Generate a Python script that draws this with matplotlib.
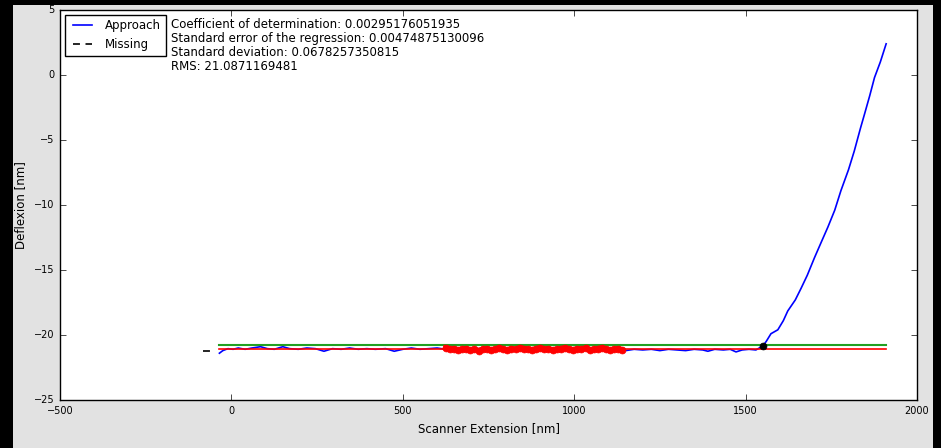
import matplotlib
matplotlib.use("Agg")
import matplotlib.pyplot as plt
from matplotlib.patches import Rectangle

plt.style.use("classic")
plt.rcParams['font.family'] = ['DejaVu Sans']

# approach curve: flat baseline then contact part
approach_x = [-35, -25, -10, 5, 20, 40, 60, 85, 105, 125, 150, 170, 195, 220, 245, 270, 295,
              320, 345, 370, 395, 420, 450, 475, 500, 525, 550, 575, 600, 625, 650, 675, 700,
              725, 750, 775, 800, 825, 850, 875, 900, 925, 950, 975, 1000, 1025, 1050, 1075,
              1100, 1125, 1150, 1175, 1200, 1225, 1250, 1275, 1300, 1325, 1350, 1375, 1390,
              1410, 1435, 1455, 1472, 1490, 1510, 1530, 1550,
              1560, 1574, 1594, 1610, 1623, 1645, 1662, 1680, 1701, 1720, 1740, 1760, 1778,
              1800, 1817, 1835, 1847, 1862, 1876, 1893, 1910]
approach_y = [-21.4, -21.2, -21.05, -21.1, -21.0, -21.1, -21.0, -20.9, -21.05, -21.1, -20.9,
              -21.05, -21.1, -21.0, -21.05, -21.25, -21.05, -21.1, -21.0, -21.1, -21.05, -21.1,
              -21.05, -21.25, -21.1, -21.0, -21.1, -21.05, -21.0, -21.1, -21.05, -21.0, -21.1,
              -21.05, -21.1, -21.0, -21.05, -21.1, -21.0, -21.05, -21.1, -21.0, -21.1, -21.05,
              -21.0, -21.1, -21.05, -21.1, -21.15, -21.1, -21.2, -21.1, -21.15, -21.1, -21.2,
              -21.1, -21.15, -21.2, -21.1, -21.15, -21.25, -21.1, -21.15, -21.1, -21.3, -21.15,
              -21.1, -21.15, -20.85,
              -20.5, -19.9, -19.6, -18.9, -18.15, -17.3, -16.4, -15.4, -14.05, -12.9, -11.7,
              -10.4, -8.9, -7.3, -5.85, -4.1, -3.0, -1.6, -0.2, 1.0, 2.4]

# points used for the fit (red)
fit_x = [625, 637, 649, 661, 673, 685, 697, 709, 721, 733, 745, 757, 769, 781, 793, 805,
         817, 829, 841, 853, 865, 877, 889, 901, 913, 925, 937, 949, 961, 973, 985, 997,
         1009, 1021, 1033, 1045, 1057, 1069, 1081, 1093, 1105, 1117, 1129, 1140]
fit_y = [-21.0, -21.1, -21.05, -21.15, -21.1, -21.05, -21.15, -21.1, -21.2, -21.1, -21.05,
         -21.15, -21.1, -21.0, -21.1, -21.15, -21.05, -21.1, -21.0, -21.05, -21.1, -21.15,
         -21.05, -21.0, -21.1, -21.05, -21.15, -21.1, -21.05, -21.0, -21.1, -21.15, -21.05,
         -21.1, -21.0, -21.15, -21.1, -21.05, -21.0, -21.1, -21.15, -21.1, -21.05, -21.15]

line_x = [-35, 1910]
green_y = [-20.78, -20.78]
red_y = [-21.1, -21.1]
contact_x = [1550]
contact_y = [-20.85]
missing_x = [-82, -62]
missing_y = [-21.2, -21.2]

stats_text = ("Coefficient of determination: 0.00295176051935\n"
              "Standard error of the regression: 0.00474875130096\n"
              "Standard deviation: 0.0678257350815\n"
              "RMS: 21.0871169481")

W, H = 941, 448
fig = plt.figure(figsize=(W / 100, H / 100), dpi=100, facecolor='black')
fig.patches.append(Rectangle((13 / W, 0), (933 - 13) / W, (H - 5) / H,
                             transform=fig.transFigure, facecolor='#e2e2e2',
                             edgecolor='none', zorder=-1))
ax = fig.add_axes([60 / W, (H - 400) / H, (917 - 60) / W, 390 / H])

ax.plot(approach_x, approach_y, color='blue', lw=1.2, label='Approach')
ax.plot(missing_x, missing_y, color='black', ls='--', dashes=(5, 4), lw=1.2, label='Missing')
ax.plot(line_x, green_y, color='#22a022', lw=1.5)
ax.plot(line_x, red_y, color='red', lw=1.2)
ax.plot(fit_x, fit_y, 'o-', color='red', ms=5, mec='red', lw=4, zorder=4)
ax.plot(contact_x, contact_y, 'o', color='black', ms=5, zorder=5)

ax.set_xlim(-500, 2000)
ax.set_ylim(-25, 5)
ax.tick_params(labelsize=7)
ax.set_xlabel('Scanner Extension [nm]', fontsize=8.5)
ax.set_ylabel('Deflexion [nm]', fontsize=8.5)

leg = ax.legend(loc='upper left', fontsize=8.5, handlelength=2.2, borderaxespad=0.4)
leg.get_frame().set_linewidth(1)
fig.text(171 / W, 1 - 18 / H, stats_text, fontsize=8.5, va='top', ha='left',
         linespacing=1.1)

fig.savefig('out.png', dpi=100, facecolor=fig.get_facecolor())
